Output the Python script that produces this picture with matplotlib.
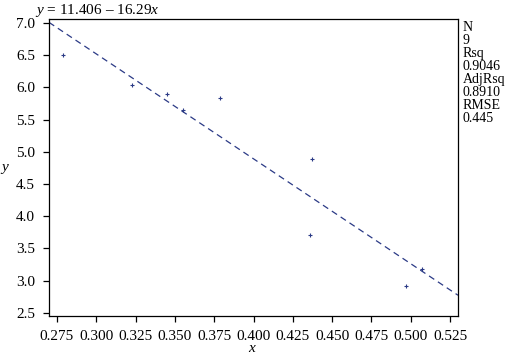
import matplotlib
matplotlib.use('Agg')
import matplotlib.pyplot as plt
import numpy as np

plt.rcParams['font.family'] = ['Liberation Serif', 'DejaVu Serif']
plt.rcParams['mathtext.fontset'] = 'custom'
plt.rcParams['mathtext.rm'] = 'Liberation Serif'
plt.rcParams['mathtext.it'] = 'Liberation Serif:italic'

# data
x = [0.279, 0.323, 0.345, 0.355, 0.379, 0.436, 0.437, 0.497, 0.507]
y = [6.50, 6.03, 5.89, 5.65, 5.83, 3.71, 4.88, 2.91, 3.18]
intercept = 11.406
slope = -16.29
stats = ['N', '9', 'Rsq', '0.9046', 'AdjRsq', '0.8910', 'RMSE', '0.445']

col = '#2b3a86'

fig = plt.figure(figsize=(5.06, 3.57), dpi=100)
ax = fig.add_axes([49/506, 1-316/357, (458-49)/506, (316-19)/357])

ax.scatter(x, y, marker='+', s=9, color=col, linewidths=0.8, zorder=3)
xl = np.array([0.27, 0.53])
ax.plot(xl, intercept + slope*xl, '--', color=col, lw=0.9, dashes=(5, 3.5))

ax.set_xlim(0.27, 0.53)
ax.set_ylim(2.45, 7.06)
ax.set_xticks(np.arange(0.275, 0.5251, 0.025))
ax.set_xticklabels(['%.3f' % v for v in np.arange(0.275, 0.5251, 0.025)])
ax.set_yticks(np.arange(2.5, 7.01, 0.5))
ax.set_yticklabels(['%.1f' % v for v in np.arange(2.5, 7.01, 0.5)])
ax.tick_params(labelsize=11, length=4, width=0.9, direction='out', pad=6)
ax.tick_params(axis='x', pad=6)
for s in ax.spines.values():
    s.set_linewidth(0.9)

# x label placed in figure coords so it stays inside the canvas
fig.text(252/506, 1-352/357, 'x', fontsize=11, style='italic', ha='center', va='baseline')
ax.set_ylabel('y', fontsize=11, style='italic', rotation=0, labelpad=8, va='center')

fig.text(35/506, 1-14/357, '$y$ = 11.406 \u2013 16.29$x$', fontsize=11, va='baseline', ha='left')
fig.text(463/506, 1-21/357, '\n'.join(stats), fontsize=10, va='top', ha='left', linespacing=1.0)

fig.savefig('out.png', dpi=100)
